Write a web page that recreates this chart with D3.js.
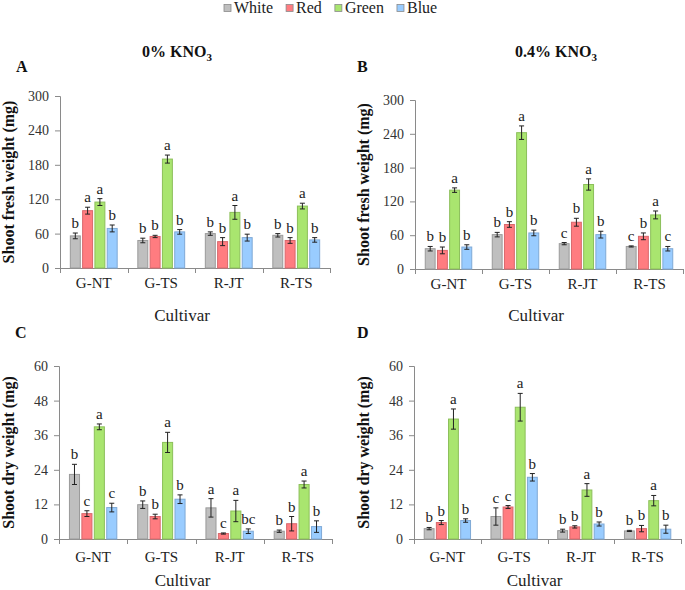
<!DOCTYPE html>
<html><head><meta charset="utf-8">
<script src="https://cdn.jsdelivr.net/npm/d3@7"></script>
<style>body{margin:0;background:#fff}svg{display:block}text{font-family:"Liberation Serif","Times New Roman",serif}</style>
</head><body>
<svg id="c" width="685" height="590"></svg>
<script>
const cultivars = ["G-NT","G-TS","R-JT","R-TS"];
const lights = ["White","Red","Green","Blue"];
const lightColors = ["#bfbfbf","#ff7c80","#a9e56f","#99ccff"];
const lightStrokes = ["#9a9a9a","#d9686c","#8cbf5a","#7fa9d6"];

// values per light series, in cultivar order
const freshTicks = [0,60,120,180,240,300];
const dryTicks = [0,12,24,36,48,60];

// A: shoot fresh weight, 0% KNO3
const freshA = {White:[56,48,60,57], Red:[100,55,46,48], Green:[115,190,97,108], Blue:[69,63,53,49]};
const freshAErr = {White:[5,4,3,3], Red:[6,2,7,5], Green:[6,7,12,5], Blue:[6,4,6,4]};
const freshALetters = {White:["b","b","b","b"], Red:["a","b","b","b"], Green:["a","a","a","a"], Blue:["b","b","b","b"]};

// B: shoot fresh weight, 0.4% KNO3
const freshB = {White:[36,61,45,40], Red:[33,79,83,58], Green:[140,242,150,96], Blue:[39,64,61,36]};
const freshBErr = {White:[4,4,2,1], Red:[6,5,7,6], Green:[4,12,10,7], Blue:[4,5,6,4]};
const freshBLetters = {White:["b","b","c","c"], Red:["b","b","b","b"], Green:["a","a","a","a"], Blue:["b","b","b","c"]};

// C: shoot dry weight, 0% KNO3
const dryC = {White:[22.4,11.9,10.8,2.7], Red:[8.8,7.8,1.9,5.3], Green:[38.9,33.5,9.7,18.9], Blue:[10.9,13.8,2.7,4.3]};
const dryCErr = {White:[3.5,1.3,3.2,0.4], Red:[1.0,0.8,0.2,2.5], Green:[1.0,3.5,3.7,1.2], Blue:[1.5,1.5,0.8,2.0]};
const dryCLetters = {White:["b","b","a","b"], Red:["c","b","c","b"], Green:["a","a","a","a"], Blue:["c","b","bc","b"]};

// D: shoot dry weight, 0.4% KNO3
const dryD = {White:[3.6,7.8,2.9,2.8], Red:[5.7,11.1,4.2,3.6], Green:[41.6,45.7,17.0,13.3], Blue:[6.4,21.4,5.2,3.4]};
const dryDErr = {White:[0.4,3.0,0.5,0.2], Red:[0.7,0.5,0.4,1.1], Green:[3.5,4.8,2.2,1.8], Blue:[0.6,1.3,0.7,1.4]};
const dryDLetters = {White:["b","c","b","b"], Red:["b","c","b","b"], Green:["a","a","a","a"], Blue:["b","b","b","b"]};

const svg = d3.select("#c");

// legend
(function(){
  let x = 224;
  lights.forEach((l,i)=>{
    svg.append("rect").attr("x",x).attr("y",4.5).attr("width",7).attr("height",7)
      .attr("fill",lightColors[i]).attr("stroke","#8a8a8a").attr("stroke-width",0.8);
    const t = svg.append("text").attr("x",x+10).attr("y",13).attr("font-size",16).attr("fill","#222").text(l);
    x += 10 + t.node().getComputedTextLength() + 13;
  });
})();

function title(cx, y, main){
  const t = svg.append("text").attr("x",cx).attr("y",y).attr("text-anchor","middle")
    .attr("font-size",16).attr("font-weight","bold").attr("fill","#111");
  t.append("tspan").text(main);
  t.append("tspan").attr("font-size",11).attr("dy",4).text("3");
}
title(177,57,"0% KNO");
title(556,57,"0.4% KNO");

const panels = [
  {letter:"A", lx:16, ly:72, x0:60, x1:330, y0:268, y1:96, ticks:freshTicks, max:300, vals:freshA, err:freshAErr, let:freshALetters, ytitle:"Shoot fresh weight (mg)", tx:14, catY:288, cultY:321},
  {letter:"B", lx:357, ly:72, x0:415, x1:683, y0:269, y1:100, ticks:freshTicks, max:300, vals:freshB, err:freshBErr, let:freshBLetters, ytitle:"Shoot fresh weight (mg)", tx:369, catY:289, cultY:321},
  {letter:"C", lx:15, ly:338, x0:59, x1:332, y0:539, y1:366, ticks:dryTicks, max:60, vals:dryC, err:dryCErr, let:dryCLetters, ytitle:"Shoot dry weight (mg)", tx:14, catY:562, cultY:586},
  {letter:"D", lx:357, ly:338, x0:414, x1:681, y0:539, y1:366, ticks:dryTicks, max:60, vals:dryD, err:dryDErr, let:dryDLetters, ytitle:"Shoot dry weight (mg)", tx:369, catY:562, cultY:586}
];

panels.forEach(p=>{
  const g = svg.append("g");
  g.append("text").attr("x",p.lx).attr("y",p.ly).attr("font-size",16).attr("font-weight","bold").attr("fill","#111").text(p.letter);

  const x = d3.scaleBand().domain(cultivars).range([p.x0,p.x1]).padding(0);
  const xi = d3.scaleBand().domain(lights).range([0,x.bandwidth()]).paddingInner(0.19).paddingOuter(0.84);
  const y = d3.scaleLinear().domain([0,p.max]).range([p.y0,p.y1]);

  // y axis
  const ya = g.append("g").attr("transform",`translate(${p.x0},0)`)
    .call(d3.axisLeft(y).tickValues(p.ticks).tickSize(5).tickPadding(6).tickFormat(d3.format("d")));
  ya.select(".domain").attr("stroke","#8a8a8a");
  ya.selectAll(".tick line").attr("stroke","#8a8a8a");
  ya.selectAll("text").attr("font-size",14).attr("fill","#333").attr("font-family","Liberation Serif");

  // x axis line + boundary ticks
  g.append("line").attr("x1",p.x0).attr("x2",p.x1).attr("y1",p.y0+0.5).attr("y2",p.y0+0.5).attr("stroke","#8a8a8a");
  cultivars.forEach((c,i)=>{
    const bx = Math.round(x(c)+x.bandwidth())+0.5;
    g.append("line").attr("x1",bx).attr("x2",bx).attr("y1",p.y0).attr("y2",p.y0+5).attr("stroke","#8a8a8a");
  });
  g.append("line").attr("x1",p.x0+0.5).attr("x2",p.x0+0.5).attr("y1",p.y0).attr("y2",p.y0+5).attr("stroke","#8a8a8a");
  cultivars.forEach(c=>{
    g.append("text").attr("x",x(c)+x.bandwidth()/2).attr("y",p.catY).attr("text-anchor","middle")
      .attr("font-size",15).attr("fill","#222").text(c);
  });
  g.append("text").attr("x",(p.x0+p.x1)/2-13).attr("y",p.cultY).attr("text-anchor","middle")
    .attr("font-size",17).attr("fill","#222").text("Cultivar");
  g.append("text").attr("transform",`translate(${p.tx},${(p.y0+p.y1)/2}) rotate(-90)`).attr("text-anchor","middle")
    .attr("font-size",16).attr("font-weight","bold").attr("fill","#111").text(p.ytitle);

  lights.forEach((l,li)=>{
    cultivars.forEach((c,ci)=>{
      const v = p.vals[l][ci], e = p.err[l][ci];
      const bx = x(c)+xi(l), bw = xi.bandwidth();
      g.append("rect").attr("x",bx).attr("y",y(v)).attr("width",bw).attr("height",y(0)-y(v))
        .attr("fill",lightColors[li]).attr("stroke",lightStrokes[li]).attr("stroke-width",1);
      const cx = bx+bw/2;
      g.append("line").attr("x1",cx).attr("x2",cx).attr("y1",y(v+e)).attr("y2",y(Math.max(0,v-e))).attr("stroke","#222").attr("stroke-width",1);
      [v+e, Math.max(0,v-e)].forEach(yy=>{
        g.append("line").attr("x1",cx-2.5).attr("x2",cx+2.5).attr("y1",y(yy)).attr("y2",y(yy)).attr("stroke","#222").attr("stroke-width",1);
      });
      g.append("text").attr("x",cx).attr("y",y(v+e)-5).attr("text-anchor","middle")
        .attr("font-size",15).attr("fill","#222").text(p.let[l][ci]);
    });
  });
});
</script>
</body></html>
